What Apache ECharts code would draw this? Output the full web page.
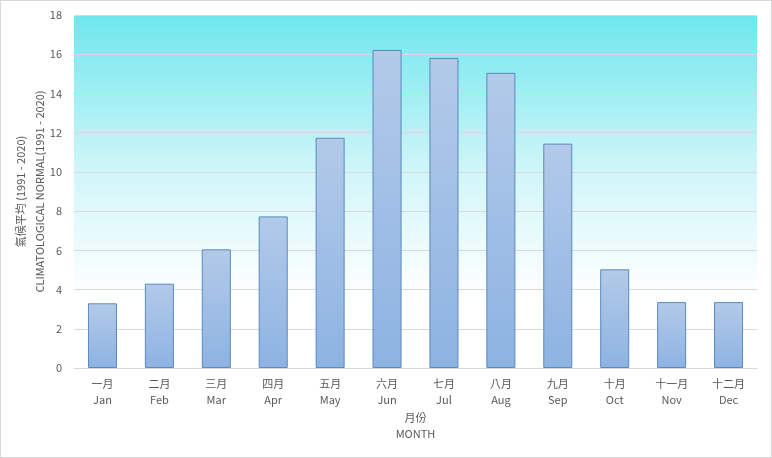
<!DOCTYPE html>
<html><head><meta charset="utf-8">
<script src="https://cdn.jsdelivr.net/npm/echarts@6/dist/echarts.min.js"></script>
<style>html,body{margin:0;padding:0;background:#fff}#c{width:772px;height:458px;box-sizing:border-box;border:1px solid #d9d9d9}</style>
</head><body><div id="c"></div>
<script>
const monthsZh = ['一月','二月','三月','四月','五月','六月','七月','八月','九月','十月','十一月','十二月'];
const monthsEn = ['Jan','Feb','Mar','Apr','May','Jun','Jul','Aug','Sep','Oct','Nov','Dec'];
const normals = [3.3, 4.3, 6.05, 7.73, 11.74, 16.22, 15.81, 15.05, 11.44, 5.03, 3.36, 3.36];
const yTicks = {min: 0, max: 18, interval: 2};

const font = '"Noto Sans CJK TC","Noto Sans",sans-serif';
const chart = echarts.init(document.getElementById('c'));
chart.setOption({
  animation: false,
  grid: {left: 73, right: 14, top: 14, bottom: 89, show: true, borderWidth: 0, containLabel: false, outerBoundsMode: 'none',
    backgroundColor: {type: 'linear', x: 0, y: 0, x2: 0, y2: 1, colorStops: [
      {offset: 0, color: '#6ee7ed'}, {offset: 0.45, color: '#d2f6f9'}, {offset: 0.8, color: '#ffffff'}, {offset: 1, color: '#ffffff'}]}},
  xAxis: {
    type: 'category',
    data: monthsZh.map((z, i) => z + '\n' + monthsEn[i]),
    name: '月份\nMONTH', nameLocation: 'middle', nameGap: 42, nameMoveOverlap: false,
    nameTextStyle: {color: '#595959', fontSize: 11, fontFamily: font, lineHeight: 16},
    axisLine: {lineStyle: {color: '#d9d9d9'}},
    axisTick: {show: false},
    axisLabel: {color: '#595959', fontSize: 11, fontFamily: font, lineHeight: 16, margin: 8}
  },
  yAxis: {
    type: 'value', min: yTicks.min, max: yTicks.max, interval: yTicks.interval,
    name: '氣候平均 (1991 - 2020)\nCLIMATOLOGICAL NORMAL(1991 - 2020)', nameLocation: 'middle', nameGap: 25, nameRotate: 90, nameMoveOverlap: false,
    nameTextStyle: {color: '#595959', fontSize: 11, fontFamily: font, lineHeight: 19},
    axisLine: {show: false}, axisTick: {show: false},
    splitLine: {lineStyle: {color: '#d9d9d9'}},
    axisLabel: {color: '#595959', fontSize: 11, fontFamily: font, margin: 12}
  },
  series: [{
    type: 'bar', data: normals, barWidth: '51%',
    itemStyle: {borderColor: '#5a89bf', borderWidth: 1,
      color: {type: 'linear', x: 0, y: 0, x2: 0, y2: 1, colorStops: [{offset: 0, color: '#b3cae9'}, {offset: 1, color: '#8db3e2'}]}}
  }]
});
</script></body></html>
